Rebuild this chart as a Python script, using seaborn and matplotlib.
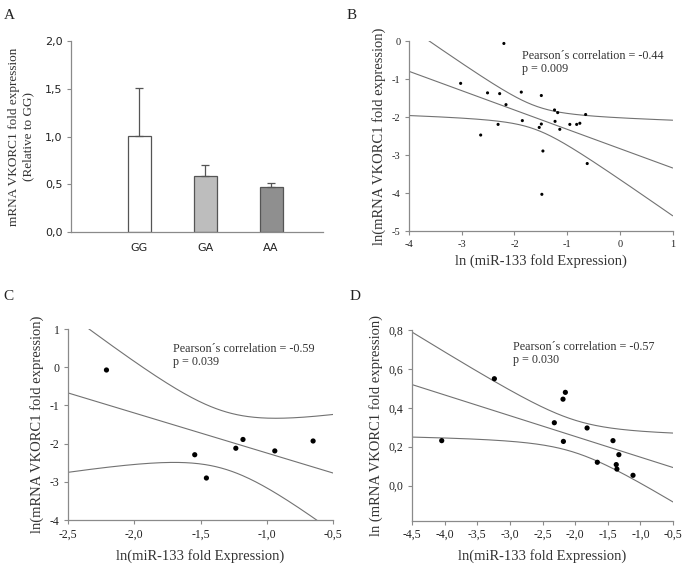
import numpy as np
import pandas as pd
import matplotlib
matplotlib.use("Agg")
import matplotlib.pyplot as plt
from matplotlib.ticker import FuncFormatter
import seaborn as sns

## Panel A data (genotype bars)
genotypes = ["GG", "GA", "AA"]
fold_means = [1.01, 0.59, 0.47]
fold_errs = [0.50, 0.11, 0.04]
bar_colors = ["#ffffff", "#bdbdbd", "#8f8f8f"]

## Panel B data (all samples)
b_x = [-2.20, -3.02, -2.51, -2.28, -1.87, -1.49, -2.16, -1.24, -1.18, -0.65, -1.85, -1.23,
       -1.49, -1.53, -2.31, -2.64, -1.14, -0.95, -0.82, -0.76, -1.46, -0.62, -1.48]
b_y = [-0.06, -1.11, -1.36, -1.38, -1.34, -1.43, -1.67, -1.81, -1.88, -1.93, -2.09, -2.11,
       -2.18, -2.27, -2.19, -2.47, -2.32, -2.19, -2.19, -2.16, -2.89, -3.22, -4.03]

## Panel C data
c_x = [-2.21, -1.544, -1.456, -1.234, -1.18, -0.94, -0.651]
c_y = [-0.07, -2.29, -2.90, -2.12, -1.89, -2.19, -1.93]

## Panel D data
d_x = [-4.045, -3.238, -2.319, -2.186, -2.15, -2.18, -1.817, -1.66, -1.42, -1.33, -1.37, -1.36, -1.113]
d_y = [0.231, 0.549, 0.323, 0.444, 0.479, 0.227, 0.296, 0.120, 0.231, 0.159, 0.108, 0.085, 0.053]

# two-sided 95% t values by degrees of freedom
t95 = {5: 2.571, 11: 2.201, 21: 2.080}

SERIF = "Liberation Serif"
LINE = "#727272"
SPINE = "#8a8a8a"

sns.set_style("ticks")
plt.rcParams["font.family"] = ["DejaVu Sans"]

comma = FuncFormatter(lambda v, p: ("%.1f" % v).replace(".", ","))
integer = FuncFormatter(lambda v, p: "%d" % round(v))


def style_axes(ax, tick_font):
    sns.despine(ax=ax)
    for s in ["left", "bottom"]:
        ax.spines[s].set_color(SPINE)
        ax.spines[s].set_linewidth(0.9)
    ax.tick_params(colors=SPINE, labelcolor="#222222", length=3, width=0.8, pad=3)
    for lab in ax.get_xticklabels() + ax.get_yticklabels():
        lab.set_fontfamily(tick_font)


def regression_panel(ax, x, y, xlim, pt_size):
    x = np.asarray(x)
    y = np.asarray(y)
    n = len(x)
    slope, intercept = np.polyfit(x, y, 1)
    resid = y - (intercept + slope * x)
    s = np.sqrt(np.sum(resid ** 2) / (n - 2))
    sxx = np.sum((x - x.mean()) ** 2)
    grid = np.linspace(xlim[0], xlim[1], 200)
    fit = intercept + slope * grid
    half = t95[n - 2] * s * np.sqrt(1 / n + (grid - x.mean()) ** 2 / sxx)
    for curve in [fit, fit + half, fit - half]:
        sns.lineplot(x=grid, y=curve, ax=ax, color=LINE, lw=0.8)
    sns.scatterplot(x=x, y=y, ax=ax, color="black", s=pt_size, edgecolor="none", zorder=3)
    r = np.corrcoef(x, y)[0, 1]
    return r


fig = plt.figure(figsize=(6.85, 5.68), dpi=100)

## A
axA = fig.add_axes([0.1036, 0.5915, 0.368, 0.336])
sns.barplot(x=genotypes, y=fold_means, hue=genotypes, palette=bar_colors, width=0.35,
            edgecolor="#555555", linewidth=0.9, legend=False, ax=axA)
axA.errorbar(range(len(genotypes)), fold_means, yerr=[np.zeros(3), fold_errs], fmt="none",
             ecolor="#555555", elinewidth=0.9, capsize=3, capthick=0.9)
axA.set_xlim(-1.04, 2.79)
axA.set_ylim(0, 2.0)
axA.set_yticks([0, 0.5, 1.0, 1.5, 2.0])
axA.yaxis.set_major_formatter(comma)
axA.set_ylabel("mRNA VKORC1 fold expression\n(Relative to GG)", fontfamily=SERIF, fontsize=9.5,
               color="#333333", labelpad=8)
axA.set_xlabel("")
style_axes(axA, "DejaVu Sans")
axA.tick_params(axis="x", length=0, pad=8)
axA.tick_params(labelsize=8)

## B
axB = fig.add_axes([0.597, 0.593, 0.385, 0.3345])
regression_panel(axB, b_x, b_y, (-4, 1), 5)
axB.set_xlim(-4, 1)
axB.set_ylim(-5, 0)
axB.set_xticks(range(-4, 2))
axB.set_yticks(range(-5, 1))
axB.xaxis.set_major_formatter(integer)
axB.yaxis.set_major_formatter(integer)
axB.text(-1.85, -0.55, "Pearson´s correlation = -0.44\np = 0.009", fontfamily=SERIF, fontsize=8.7,
         color="#333333", va="center", linespacing=1.1)
axB.set_xlabel("ln (miR-133 fold Expression)", fontfamily=SERIF, fontsize=10.5, color="#333333")
axB.set_ylabel("ln(mRNA VKORC1 fold expression)", fontfamily=SERIF, fontsize=10.5, color="#333333")
style_axes(axB, SERIF)
axB.tick_params(labelsize=7.5)

## C
axC = fig.add_axes([0.0993, 0.0845, 0.387, 0.336])
regression_panel(axC, c_x, c_y, (-2.5, -0.5), 14)
axC.set_xlim(-2.5, -0.5)
axC.set_ylim(-4, 1)
axC.set_xticks(np.arange(-2.5, -0.49, 0.5))
axC.set_yticks(range(-4, 2))
axC.xaxis.set_major_formatter(comma)
axC.yaxis.set_major_formatter(integer)
axC.text(-1.71, 0.3, "Pearson´s correlation = -0.59\np = 0.039", fontfamily=SERIF, fontsize=8.7,
         color="#333333", va="center", linespacing=1.1)
axC.set_xlabel("ln(miR-133 fold Expression)", fontfamily=SERIF, fontsize=10.5, color="#333333",
               labelpad=6)
axC.set_ylabel("ln(mRNA VKORC1 fold expression)", fontfamily=SERIF, fontsize=10.5, color="#333333")
style_axes(axC, SERIF)
axC.tick_params(labelsize=8.5)

## D
axD = fig.add_axes([0.6015, 0.0833, 0.381, 0.336])
regression_panel(axD, d_x, d_y, (-4.5, -0.5), 14)
axD.set_xlim(-4.5, -0.5)
axD.set_ylim(-0.18, 0.8)
axD.set_xticks(np.arange(-4.5, -0.49, 0.5))
axD.set_yticks([0, 0.2, 0.4, 0.6, 0.8])
axD.xaxis.set_major_formatter(comma)
axD.yaxis.set_major_formatter(comma)
axD.text(-2.95, 0.68, "Pearson´s correlation = -0.57\np = 0.030", fontfamily=SERIF, fontsize=8.7,
         color="#333333", va="center", linespacing=1.1)
axD.set_xlabel("ln(miR-133 fold Expression)", fontfamily=SERIF, fontsize=10.5, color="#333333",
               labelpad=6)
axD.set_ylabel("ln (mRNA VKORC1 fold expression)", fontfamily=SERIF, fontsize=10.5, color="#333333")
style_axes(axD, SERIF)
axD.tick_params(labelsize=8.5)

## panel letters
for lbl, (px, py) in zip("ABCD", [(0.005, 0.985), (0.506, 0.985), (0.005, 0.49), (0.51, 0.49)]):
    fig.text(px, py, lbl, fontfamily=SERIF, fontsize=11, va="top", color="#222222")

fig.savefig("out.png", dpi=100)
